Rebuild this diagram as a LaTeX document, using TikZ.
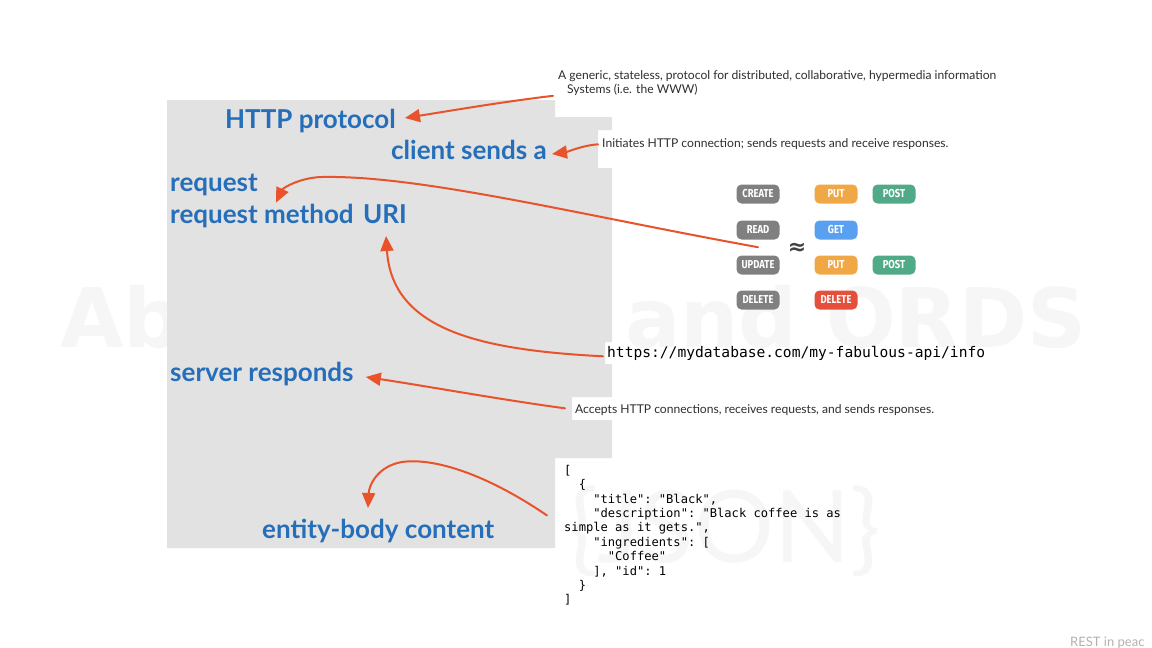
\documentclass[tikz,border=0pt]{standalone}
\usepackage{fontspec}
\setmainfont{Lato}
\setmonofont{DejaVu Sans Mono}
\newfontfamily\pillfont[FakeStretch=0.82]{Fira Sans}
\newfontfamily\symfont{DejaVu Sans}
\usetikzlibrary{arrows.meta,calc}

\definecolor{panelgray}{HTML}{E2E2E2}
\definecolor{headblue}{HTML}{256EBA}
\definecolor{arroworange}{HTML}{E8532B}
\definecolor{notetext}{HTML}{2E2E2E}
\definecolor{faintmark}{HTML}{F6F6F6}
\definecolor{pillgray}{HTML}{808080}
\definecolor{pillorange}{HTML}{F0A846}
\definecolor{pillgreen}{HTML}{50AA87}
\definecolor{pillblue}{HTML}{5AA0F0}
\definecolor{pillred}{HTML}{E4503C}

\tikzset{
  head/.style={font=\bfseries\fontsize{26}{30}\selectfont, text=headblue, inner sep=0pt, anchor=base west},
  note/.style={font=\fontsize{12.1}{14}\selectfont, text=notetext, inner sep=0pt, anchor=base west},
  code/.style={font=\ttfamily\fontsize{12.1}{14.4}\selectfont, text=black, inner sep=0pt, anchor=base west},
  pill/.style={fill=#1, rounded corners=5pt, minimum width=43pt, minimum height=19pt,
    text=white, font=\pillfont\bfseries\fontsize{11.5}{12}\selectfont, inner sep=0pt},
  orangearrow/.style={draw=arroworange, line width=2pt, line cap=round,
    -{Triangle[length=15pt,width=13pt]}},
  watermark/.style={text=faintmark, inner sep=0pt, anchor=base west}
}

\begin{document}
\begin{tikzpicture}[x=1pt,y=-1pt]
\useasboundingbox (0,0) rectangle (1152,648);
\clip (0,0) rectangle (1152,648);
\fill[white] (0,0) rectangle (1152,648);

% faint title lettering in the background
\node[watermark, font=\symfont\bfseries\fontsize{82}{90}\selectfont] (wmleft) at (60,347) {Ab};
\node[watermark, font=\symfont\bfseries\fontsize{82}{90}\selectfont] (wmright) at (625,347) {and ORDS};
\node[watermark, font=\fontsize{100}{110}\selectfont] (wmjson) at (568,562) {\{JSON\}};

% grey slide panel, cut back where the callout texts sit
\fill[panelgray] (167,100) -- (555,100) -- (555,117) -- (612,117) -- (612,130)
  -- (598,130) -- (598,168) -- (612,168) -- (612,342) -- (605,342) -- (605,364)
  -- (612,364) -- (612,397) -- (572,397) -- (572,420) -- (612,420) -- (612,458)
  -- (555,458) -- (555,548) -- (167,548) -- cycle;

% key phrases
\node[head] (http)   at (225,128)   {HTTP protocol};
\node[head] (client) at (391,159)   {client sends a};
\node[head] (req1)   at (170,191.7) {request};
\node[head] (req2)   at (170,223)   {request method\hspace{0.12em} URI};
\node[head] (server) at (170,381.7) {server responds};
\node[head] (entity) at (262,538)   {entity-body content};

% explanatory callouts
\node[note] (gen1)   at (558,79.3)  {A generic, stateless, protocol for distributed, collaborative, hypermedia information};
\node[note] (gen2)   at (567,93.3)  {Systems (i.e. the WWW)};
\node[note] (init)   at (602,147.3) {Initiates HTTP connection; sends requests and receive responses.};
\node[note] (accept) at (575,413.3) {Accepts HTTP connections, receives requests, and sends responses.};
\node[code, font=\ttfamily\fontsize{14.6}{16}\selectfont] (url) at (607,357.3) {https://mydatabase.com/my-fabulous-api/info};

% JSON payload
\node[code] (j1)  at (564,474.2) {[};
\node[code] (j2)  at (564,488.6) {\hphantom{00}\{};
\node[code] (j3)  at (564,503.0) {\hphantom{0000}"title": "Black",};
\node[code] (j4)  at (564,517.4) {\hphantom{0000}"description": "Black coffee is as};
\node[code] (j5)  at (564,531.8) {simple as it gets.",};
\node[code] (j6)  at (564,546.2) {\hphantom{0000}"ingredients": [};
\node[code] (j7)  at (564,560.6) {\hphantom{000000}"Coffee"};
\node[code] (j8)  at (564,575.0) {\hphantom{0000}], "id": 1};
\node[code] (j9)  at (564,589.4) {\hphantom{00}\}};
\node[code] (j10) at (564,603.8) {]};

% CRUD to HTTP verb mapping
\node[pill=pillgray]   (create)  at (758,194) {CREATE};
\node[pill=pillgray]   (read)    at (758,230) {READ};
\node[pill=pillgray]   (update)  at (758,265) {UPDATE};
\node[pill=pillgray]   (delete1) at (758,300) {DELETE};
\node[pill=pillorange] (put1)    at (836,194) {PUT};
\node[pill=pillgreen]  (post1)   at (894,194) {POST};
\node[pill=pillblue]   (get)     at (836,230) {GET};
\node[pill=pillorange] (put2)    at (836,265) {PUT};
\node[pill=pillgreen]  (post2)   at (894,265) {POST};
\node[pill=pillred]    (delete2) at (836,300) {DELETE};
\node[inner sep=0pt, text=black!75, font=\symfont\bfseries\fontsize{22}{24}\selectfont] (approx) at (797,249) {≈};

% footer
\node[note, text=black!30, font=\fontsize{13}{15}\selectfont] (footer) at (1070,646) {REST in peac};

% arrows
\draw[orangearrow] ($(gen2.base west)+(-14,2.5)$) .. controls +(-50,6) and +(50,-8) .. ($(http.base east)+(9,-10)$);
\draw[orangearrow] ($(init.base west)+(-4,-3)$) .. controls +(-15,1) and +(15,-2) .. ($(client.base east)+(5,-5)$);
\draw[orangearrow] ($(read.south)+(0,7.5)$) .. controls (580,215) and (420,175) .. (322,177)
  .. controls (300,177.5) and (283,188) .. ($(req1.base west)+(106,11)$);
\draw[orangearrow] ($(url.base west)+(-4,-1)$) .. controls (480,350) and (392,330) .. ($(req2.base east)+(-21,13)$);
\draw[orangearrow] ($(accept.base west)+(-10,-5)$) .. controls +(-60,-8) and +(60,9) .. ($(server.base east)+(12,-4.7)$);
\draw[orangearrow] ($(j4.base west)+(-17,-2)$) .. controls (480,470) and (430,458) .. (402,462)
  .. controls (378,466) and (369,485) .. ($(entity.base west)+(106,-30)$);
\end{tikzpicture}
\end{document}
